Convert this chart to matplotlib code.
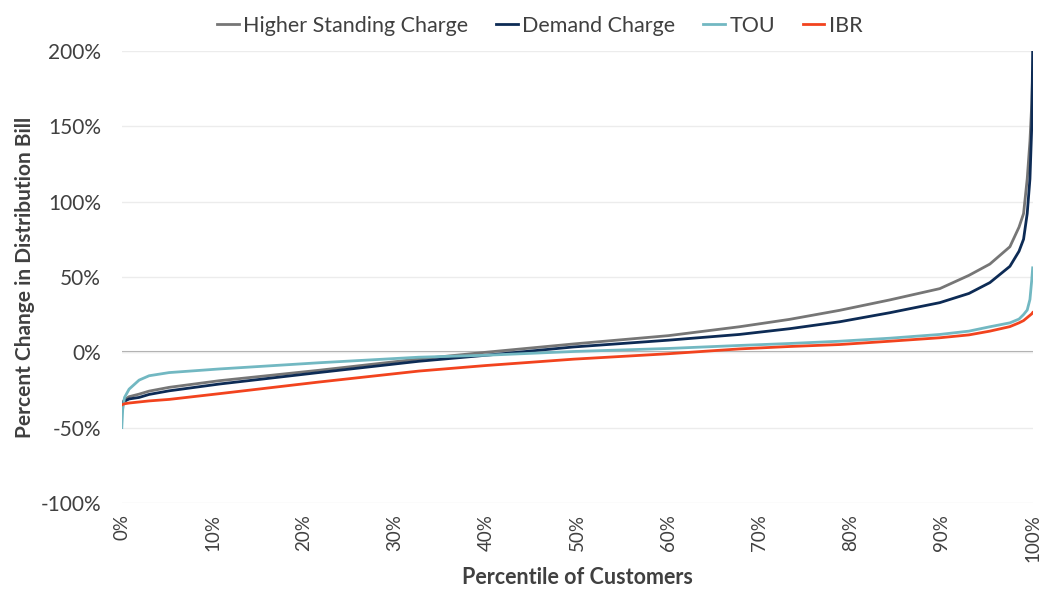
import matplotlib.pyplot as plt
from matplotlib.ticker import FuncFormatter

# percentile of customers (x) and percent change in distribution bill (y)
pct = [0, 0.1, 0.3, 0.8, 1.9, 3.0, 5.2, 10.7, 21.6, 32.6, 40, 49.6, 60, 67.8, 73.3,
       78.8, 84.3, 89.8, 93, 95.3, 97.5, 98.5, 99, 99.4, 99.7, 99.9, 100]

standing = [-35, -33, -31.5, -29.5, -27.8, -25.8, -23.3, -18.9, -12, -4.5, 0, 5.5, 11, 16.9,
            21.8, 27.8, 34.7, 42.2, 51, 58.5, 70, 83, 92, 115, 140, 165, 185]
demand = [-35, -34, -32.5, -31, -30, -28, -25.6, -21.1, -13.5, -6, -2, 3.5, 8, 11.8,
          15.6, 20.2, 26.2, 32.9, 39, 46.2, 57, 67, 75, 92, 115, 150, 200]
tou = [-50, -38, -30, -24.5, -18.5, -15.6, -13.5, -11.1, -7, -3.3, -2, 0.5, 2.5, 4.5,
       5.8, 7.3, 9.3, 11.8, 14, 16.9, 19.5, 22, 25, 28, 35, 48, 56]
ibr = [-35, -34.6, -34.2, -33.7, -33, -32.3, -31.3, -27.5, -19.8, -12.5, -8.8, -4.6, -1, 2.2,
       3.8, 5.1, 7.3, 9.6, 11.5, 14, 17, 19.5, 21, 23, 24.5, 25.5, 26.3]

series = ["Higher Standing Charge", "Demand Charge", "TOU", "IBR"]
colors = ["#767676", "#0d2b55", "#72b8c2", "#f2431e"]

plt.rcParams['font.family'] = ['Lato', 'DejaVu Sans']

fig = plt.figure(figsize=(10.41, 5.91), dpi=100)
ax = fig.add_axes([0.117, 0.149, 0.875, 0.765])

for name, vals, c in zip(series, [standing, demand, tou, ibr], colors):
    ax.plot(pct, vals, color=c, lw=2, label=name, zorder=3)

ax.set_xlim(0, 100)
ax.set_ylim(-100, 200)
ax.set_yticks(range(-100, 201, 50))
ax.set_xticks(range(0, 101, 10))
ax.yaxis.set_major_formatter(FuncFormatter(lambda v, p: f"{v:.0f}%"))
ax.xaxis.set_major_formatter(FuncFormatter(lambda v, p: f"{v:.0f}%"))
ax.grid(axis='y', color='#ececec', lw=1, zorder=0)
ax.axhline(0, color='#a6a6a6', lw=1.5, zorder=1)
for s in ax.spines.values():
    s.set_visible(False)
ax.tick_params(length=0, colors='#404040')
ax.tick_params(axis='y', labelsize=15, pad=15)
ax.tick_params(axis='x', labelsize=13.5, pad=8)
plt.setp(ax.get_xticklabels(), rotation=90)

ax.set_xlabel("Percentile of Customers", fontsize=15.5, fontweight='bold', color='#404040')
ax.set_ylabel("Percent Change in Distribution Bill", fontsize=15, fontweight='bold',
              color='#404040', labelpad=4)

ax.legend(loc='lower center', bbox_to_anchor=(0.459, 1.0), ncol=4, frameon=False,
          fontsize=15.5, handlelength=1.0, handletextpad=0.2, columnspacing=1.3,
          labelcolor='#404040', borderaxespad=0.3)

fig.savefig("out.png", dpi=100)
